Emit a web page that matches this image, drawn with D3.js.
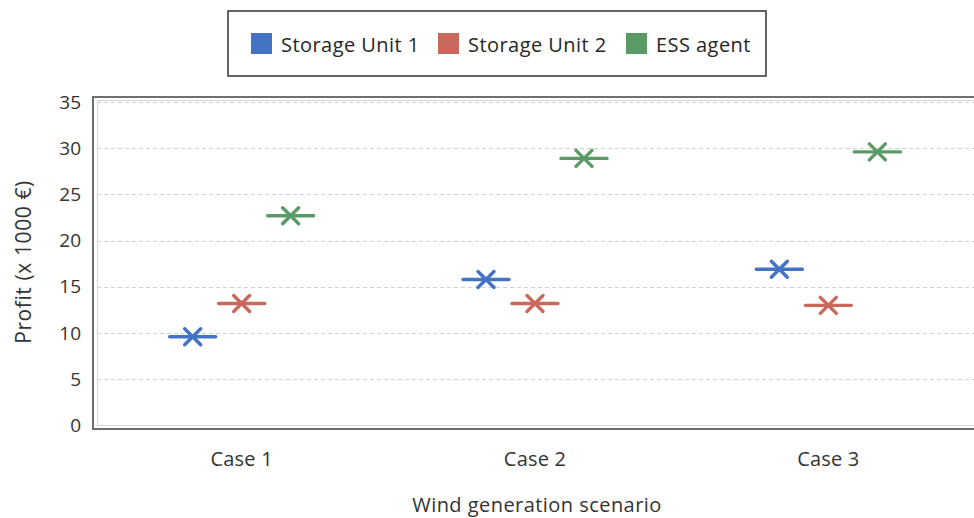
<!DOCTYPE html>
<html>
<head>
<meta charset="utf-8">
<script src="https://cdn.jsdelivr.net/npm/d3@7"></script>
<style>
  html, body { margin: 0; padding: 0; background: #fff; }
  svg { display: block; font-family: "Open Sans", "Noto Sans", sans-serif; }
</style>
</head>
<body>
<svg id="chart" width="974" height="518"></svg>
<script>
// ---- data ----
const categories = ["Case 1", "Case 2", "Case 3"];
const seriesNames = ["Storage Unit 1", "Storage Unit 2", "ESS agent"];
const storageUnit1 = [9.6, 15.8, 16.9];
const storageUnit2 = [13.2, 13.2, 13.0];
const essAgent = [22.7, 28.9, 29.6];
const yTicks = [0, 5, 10, 15, 20, 25, 30, 35];
const colors = ["#4472C4", "#C8695B", "#5A9B65"];

const seriesValues = [storageUnit1, storageUnit2, essAgent];

const svg = d3.select("#chart");
const W = 974, H = 518;

// plot area
const plotLeft = 97, plotRight = 975, plotBottom = 425.5;

const x = d3.scaleBand().domain(categories).range([plotLeft - 2, plotRight]).padding(0);
const y = d3.scaleLinear().domain([0, 35]).range([plotBottom, 102]);
const sub = d3.scalePoint().domain(seriesNames).range([-49, 49]);

// grid lines
svg.append("g").selectAll("line").data(yTicks.filter(d => d > 0)).join("line")
  .attr("x1", plotLeft).attr("x2", W)
  .attr("y1", d => Math.round(y(d)) + 0.5).attr("y2", d => Math.round(y(d)) + 0.5)
  .attr("stroke", "#d0d0d0").attr("stroke-width", 1).attr("stroke-dasharray", "4,3");

// frame: inner light line + outer dark line
svg.append("rect").attr("x", 97.5).attr("y", 100.5).attr("width", W).attr("height", plotBottom - 100.5)
  .attr("fill", "none").attr("stroke", "#d6d6d6").attr("stroke-width", 1);
svg.append("rect").attr("x", 93).attr("y", 97).attr("width", W + 10).attr("height", 332)
  .attr("fill", "none").attr("stroke", "#6e6e6e").attr("stroke-width", 2);

// y axis labels
const yAxis = d3.axisLeft(y).tickValues(yTicks).tickSize(0).tickPadding(0);
const gy = svg.append("g").attr("transform", "translate(81,0)").call(yAxis);
gy.select(".domain").remove();
gy.selectAll("text").attr("font-size", 19).attr("fill", "#333")
  .attr("font-family", "'Open Sans', sans-serif");

// x axis labels
const xAxis = d3.axisBottom(x).tickSize(0).tickPadding(0);
const gx = svg.append("g").attr("transform", "translate(0,452)").call(xAxis);
gx.select(".domain").remove();
gx.selectAll("text").attr("font-size", 20).attr("fill", "#333")
  .attr("letter-spacing", 0.2)
  .attr("font-family", "'Open Sans', sans-serif");

// axis titles
svg.append("text").attr("x", 537).attr("y", 512).attr("text-anchor", "middle")
  .attr("font-size", 20).attr("letter-spacing", 0.45).attr("fill", "#333").text("Wind generation scenario");
svg.append("text").attr("transform", "translate(31,262) rotate(-90)").attr("text-anchor", "middle")
  .attr("font-size", 21).attr("letter-spacing", 0.6).attr("fill", "#333").text("Profit (x 1000 €)");

// markers: horizontal dash + X cross
const markers = [];
seriesNames.forEach((s, si) => {
  categories.forEach((c, ci) => {
    markers.push({ s, c, v: seriesValues[si][ci], color: colors[si] });
  });
});
const mg = svg.append("g").selectAll("g").data(markers).join("g")
  .attr("transform", d => `translate(${x(d.c) + x.bandwidth() / 2 + sub(d.s)},${y(d.v)})`)
  .attr("stroke", d => d.color).attr("stroke-width", 3.4).attr("stroke-linecap", "round");
mg.append("line").attr("x1", -23).attr("x2", 23).attr("y1", 0).attr("y2", 0);
mg.append("line").attr("x1", -8).attr("x2", 8).attr("y1", -8).attr("y2", 8);
mg.append("line").attr("x1", -8).attr("x2", 8).attr("y1", 8).attr("y2", -8);

// legend
const lg = svg.append("g");
lg.append("rect").attr("x", 228).attr("y", 11).attr("width", 538).attr("height", 65)
  .attr("fill", "#fff").attr("stroke", "#333").attr("stroke-width", 1.5);
const legendX = [251, 438, 626];
const items = lg.selectAll("g.item").data(seriesNames).join("g").attr("class", "item")
  .attr("transform", (d, i) => `translate(${legendX[i]},33)`);
items.append("rect").attr("width", 21).attr("height", 21).attr("fill", (d, i) => colors[i]);
items.append("text").attr("x", 30).attr("y", 18.5).attr("font-size", 20).attr("letter-spacing", 0.45)
  .attr("fill", "#262626").text(d => d);
</script>
</body>
</html>
